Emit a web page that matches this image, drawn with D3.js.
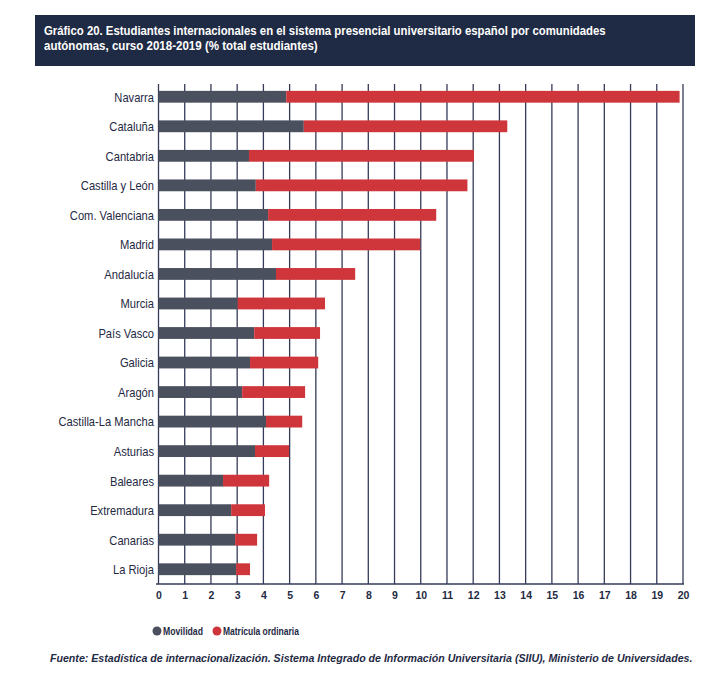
<!DOCTYPE html>
<html><head><meta charset="utf-8">
<script src="https://cdn.jsdelivr.net/npm/d3@7"></script>
<style>
body{margin:0;background:#fff;}
svg{display:block;}
</style></head>
<body>
<svg id="chart" width="725" height="678"></svg>
<script>
const categories = ["Navarra","Cataluña","Cantabria","Castilla y León","Com. Valenciana","Madrid","Andalucía","Murcia","País Vasco","Galicia","Aragón","Castilla-La Mancha","Asturias","Baleares","Extremadura","Canarias","La Rioja"];
const movilidad = [4.87,5.54,3.45,3.71,4.18,4.33,4.48,3.02,3.65,3.49,3.19,4.10,3.68,2.46,2.77,2.92,2.96];
const matriculaOrdinaria = [15.00,7.76,8.58,8.07,6.41,5.65,3.02,3.33,2.51,2.60,2.40,1.38,1.30,1.76,1.29,0.84,0.53];
const seriesNames = ["Movilidad","Matrícula ordinaria"];
const xTicks = d3.range(0,21);
const titleLines = ["Gráfico 20. Estudiantes internacionales en el sistema presencial universitario español por comunidades","autónomas, curso 2018-2019 (% total estudiantes)"];
const sourceText = "Fuente: Estadística de internacionalización. Sistema Integrado de Información Universitaria (SIIU), Ministerio de Universidades.";

const colors = ["#4a505e","#cf363b"];
const navy = "#1f2a44";
const sans = "'Liberation Sans','Arial',sans-serif";

const svg = d3.select("#chart");

// fit a text element horizontally to a target width via scale transform
function fitWidth(sel, x0, y0, target){
  const w = sel.node().getComputedTextLength();
  sel.attr("x",0).attr("y",0).attr("transform",`translate(${x0},${y0}) scale(${target/w},1)`);
}

// Title box
svg.append("rect").attr("x",35).attr("y",15).attr("width",660).attr("height",51).attr("fill",navy);
const titleWidths = [562, 274];
titleLines.forEach((t,i)=>{
  const el = svg.append("text").attr("class","title")
    .attr("fill","#fff").attr("font-family",sans).attr("font-weight","bold").attr("font-size",13.5)
    .text(t);
  fitWidth(el, 44, 35+i*15, titleWidths[i]);
});

const x = d3.scaleLinear().domain([0,20]).range([158.5,683]);
const y = d3.scaleBand().domain(categories).range([82,584]).paddingInner(0.6).paddingOuter(0.3);

// gridlines
svg.append("g").selectAll("line").data(xTicks).join("line")
  .attr("x1",d=>x(d)).attr("x2",d=>x(d))
  .attr("y1",84).attr("y2",584)
  .attr("stroke","#353b58").attr("stroke-width",1.3);

const stackData = categories.map((c,i)=>({cat:c, "Movilidad":movilidad[i], "Matrícula ordinaria":matriculaOrdinaria[i]}));
const stack = d3.stack().keys(seriesNames)(stackData);

svg.append("g").selectAll("g").data(stack).join("g")
  .attr("fill",(d,i)=>colors[i])
  .selectAll("rect").data(d=>d).join("rect")
  .attr("x",d=>x(d[0])).attr("width",d=>x(d[1])-x(d[0]))
  .attr("y",d=>y(d.data.cat)).attr("height",y.bandwidth());

// category labels (condensed look via horizontal scale)
svg.append("g").attr("transform","translate(154,0) scale(0.84,1)")
  .selectAll("text").data(categories).join("text")
  .attr("x",0).attr("y",d=>y(d)+y.bandwidth()/2)
  .attr("dy","0.37em").attr("text-anchor","end")
  .attr("fill",navy).attr("font-family",sans).attr("font-size",13.3)
  .text(d=>d);

// x axis
const xAxis = d3.axisBottom(x).tickValues(xTicks).tickSize(0).tickPadding(8).tickFormat(d3.format("d"));
const gx = svg.append("g").attr("transform","translate(0,584)").call(xAxis);
gx.select(".domain").attr("stroke","#353b58").attr("stroke-width",1.5).attr("d","M156,0H684");
gx.selectAll("text").attr("fill",navy).attr("font-family",sans).attr("font-weight","bold").attr("font-size",10.5);

// legend
const legX = [157, 217];
const legW = [40, 76];
seriesNames.forEach((s,i)=>{
  svg.append("circle").attr("cx",legX[i]).attr("cy",631).attr("r",4.5).attr("fill",colors[i]);
  const el = svg.append("text").attr("dy","0.36em")
    .attr("fill",navy).attr("font-family",sans).attr("font-weight","bold").attr("font-size",10.5).text(s);
  fitWidth(el, legX[i]+6, 631, legW[i]);
});

// source
const src = svg.append("text")
  .attr("fill",navy).attr("font-family",sans).attr("font-weight","bold").attr("font-style","italic").attr("font-size",11.5)
  .text(sourceText);
fitWidth(src, 50, 662, 643);
</script>
</body></html>
